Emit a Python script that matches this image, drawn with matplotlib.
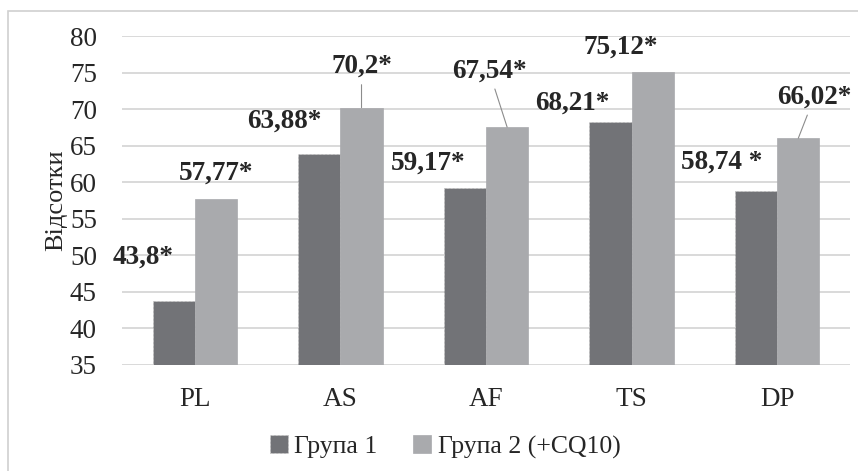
import matplotlib
matplotlib.use("Agg")
import matplotlib.pyplot as plt
import numpy as np
from matplotlib.patches import Rectangle

categories = ["PL", "AS", "AF", "TS", "DP"]
group1 = [43.8, 63.88, 59.17, 68.21, 58.74]
group2 = [57.77, 70.2, 67.54, 75.12, 66.02]
labels1 = ["43,8*", "63,88*", "59,17*", "68,21*", "58,74 *"]
labels2 = ["57,77*", "70,2*", "67,54*", "75,12*", "66,02*"]
series_names = ["Група 1", "Група 2 (+CQ10)"]
yticks = [35, 40, 45, 50, 55, 60, 65, 70, 75, 80]

# label offsets in pixels (dx, dy) relative to bar top centre
off1 = [(-31, 43), (-35, 33), (-37, 25), (-38, 19), (-34, 29)]
off2 = [(0, 25), (0, 41), (-18, 56), (-32, 25), (16, 41)]
leader2 = [False, True, True, False, True]

plt.rcParams['font.family'] = ['Liberation Serif', 'DejaVu Serif']

fig = plt.figure(figsize=(8.58, 4.71), dpi=100)
W, H = 858, 471
ax = fig.add_axes([122 / W, 1 - 365 / H, (850 - 122) / W, (365 - 36) / H])

# outer border
fig.patches.append(Rectangle((8 / W, -0.1), 1.2, 1 - 11 / H + 0.1,
                             transform=fig.transFigure, fill=False,
                             edgecolor='#d0d0d0', lw=1.2))

x = np.arange(len(categories))
w = 0.29
c1, c2 = '#727377', '#a9aaad'
b1 = ax.bar(x - w / 2, np.array(group1) - 35, w, bottom=35, color=c1,
            edgecolor='#c8c8c8', linestyle=(0, (2, 2)), linewidth=0.7,
            label=series_names[0], zorder=3)
b2 = ax.bar(x + w / 2, np.array(group2) - 35, w, bottom=35, color=c2,
            edgecolor=c2, linewidth=0.5, label=series_names[1], zorder=3)

ax.set_ylim(35, 80)
ax.set_xlim(-0.5, len(categories) - 0.5)
ax.set_yticks(yticks)
ax.set_yticklabels([str(t) for t in yticks], fontsize=19.5, color='#262626')
ax.set_xticks(x)
ax.set_xticklabels(categories, fontsize=19.5, color='#262626')
ax.tick_params(axis='both', length=0)
ax.tick_params(axis='y', pad=18)
ax.tick_params(axis='x', pad=16)
ax.grid(axis='y', color='#d9d9d9', lw=1.4, zorder=0)
ax.set_axisbelow(True)
for s in ax.spines.values():
    s.set_visible(False)
ax.set_ylabel("Відсотки", fontsize=19, color='#262626', labelpad=2)

for i in range(len(categories)):
    ax.annotate(labels1[i], xy=(x[i] - w / 2, group1[i]), xytext=off1[i],
                textcoords='offset pixels', ha='center', va='center',
                fontsize=19.5, fontweight='bold', color='#262626', zorder=5)
    ap = dict(arrowstyle='-', color='#8c8c8c', lw=0.8, shrinkA=2, shrinkB=0) if leader2[i] else None
    ax.annotate(labels2[i], xy=(x[i] + w / 2, group2[i]), xytext=off2[i],
                textcoords='offset pixels', ha='center', va='center',
                fontsize=19.5, fontweight='bold', color='#262626', zorder=5,
                arrowprops=ap)

fig.legend(handles=[b1, b2], labels=series_names, loc='center',
           bbox_to_anchor=(445 / W, 1 - 447 / H), ncol=2, frameon=False,
           fontsize=18.5, handlelength=0.7, handleheight=0.7, handletextpad=0.25,
           columnspacing=1.4, labelcolor='#262626')

fig.savefig("out.png", dpi=100)
